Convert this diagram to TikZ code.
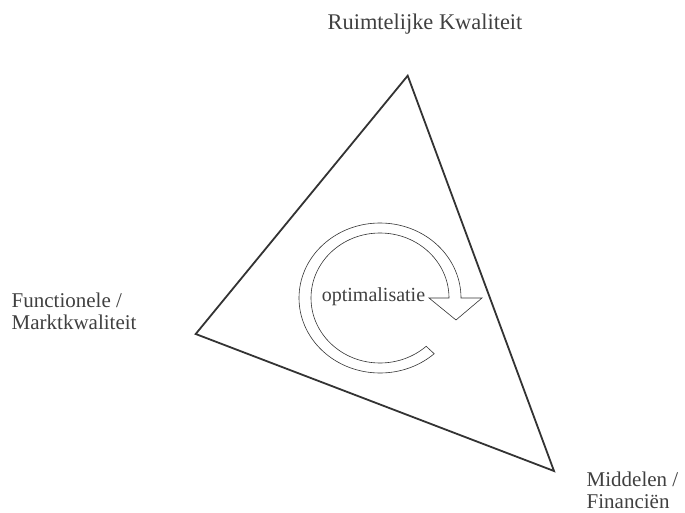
\documentclass[tikz,border=0pt]{standalone}
\usepackage{fontspec}
\setmainfont{Liberation Serif}
\begin{document}
\begin{tikzpicture}[x=1pt,y=-1pt,
  lbl/.style={text=black!75,font=\fontsize{20}{21.7}\selectfont,inner sep=0pt,align=left},
  side/.style={lbl,font=\fontsize{21}{22}\selectfont},
  tri/.style={draw=black!80,line width=1.8pt,line join=miter},
  cyc/.style={draw=black!80,line width=0.6pt,fill=white,line join=miter}]
\useasboundingbox (0,0) rectangle (685,513);
\coordinate (T) at (407.7,75.7);
\coordinate (L) at (195.7,334);
\coordinate (R) at (554,471);
\draw[tri] (T) -- (L) -- (R) -- cycle;
\coordinate (c) at (380,298);
\draw[cyc] ([shift={(c)}]48:81 and 75) arc[start angle=48,end angle=360,x radius=81,y radius=75]
  -- (482,298) coordinate (hb1) -- (456,320) coordinate (tip) -- (429,298) coordinate (hb2) -- (449,298)
  arc[start angle=360,end angle=48,x radius=69,y radius=65] -- cycle;
\node[lbl,anchor=base] (opt) at (373.5,301.7) {optimalisatie};
\node[lbl,anchor=base,font=\fontsize{22.4}{24}\selectfont] (rk) at (425,30) {Ruimtelijke Kwaliteit};
\node[side,anchor=base west] (fm) at (11.5,329) {Functionele /\\Marktkwaliteit};
\node[side,anchor=base west] (mf) at (586.5,508) {Middelen /\\Financiën};
\end{tikzpicture}
\end{document}
